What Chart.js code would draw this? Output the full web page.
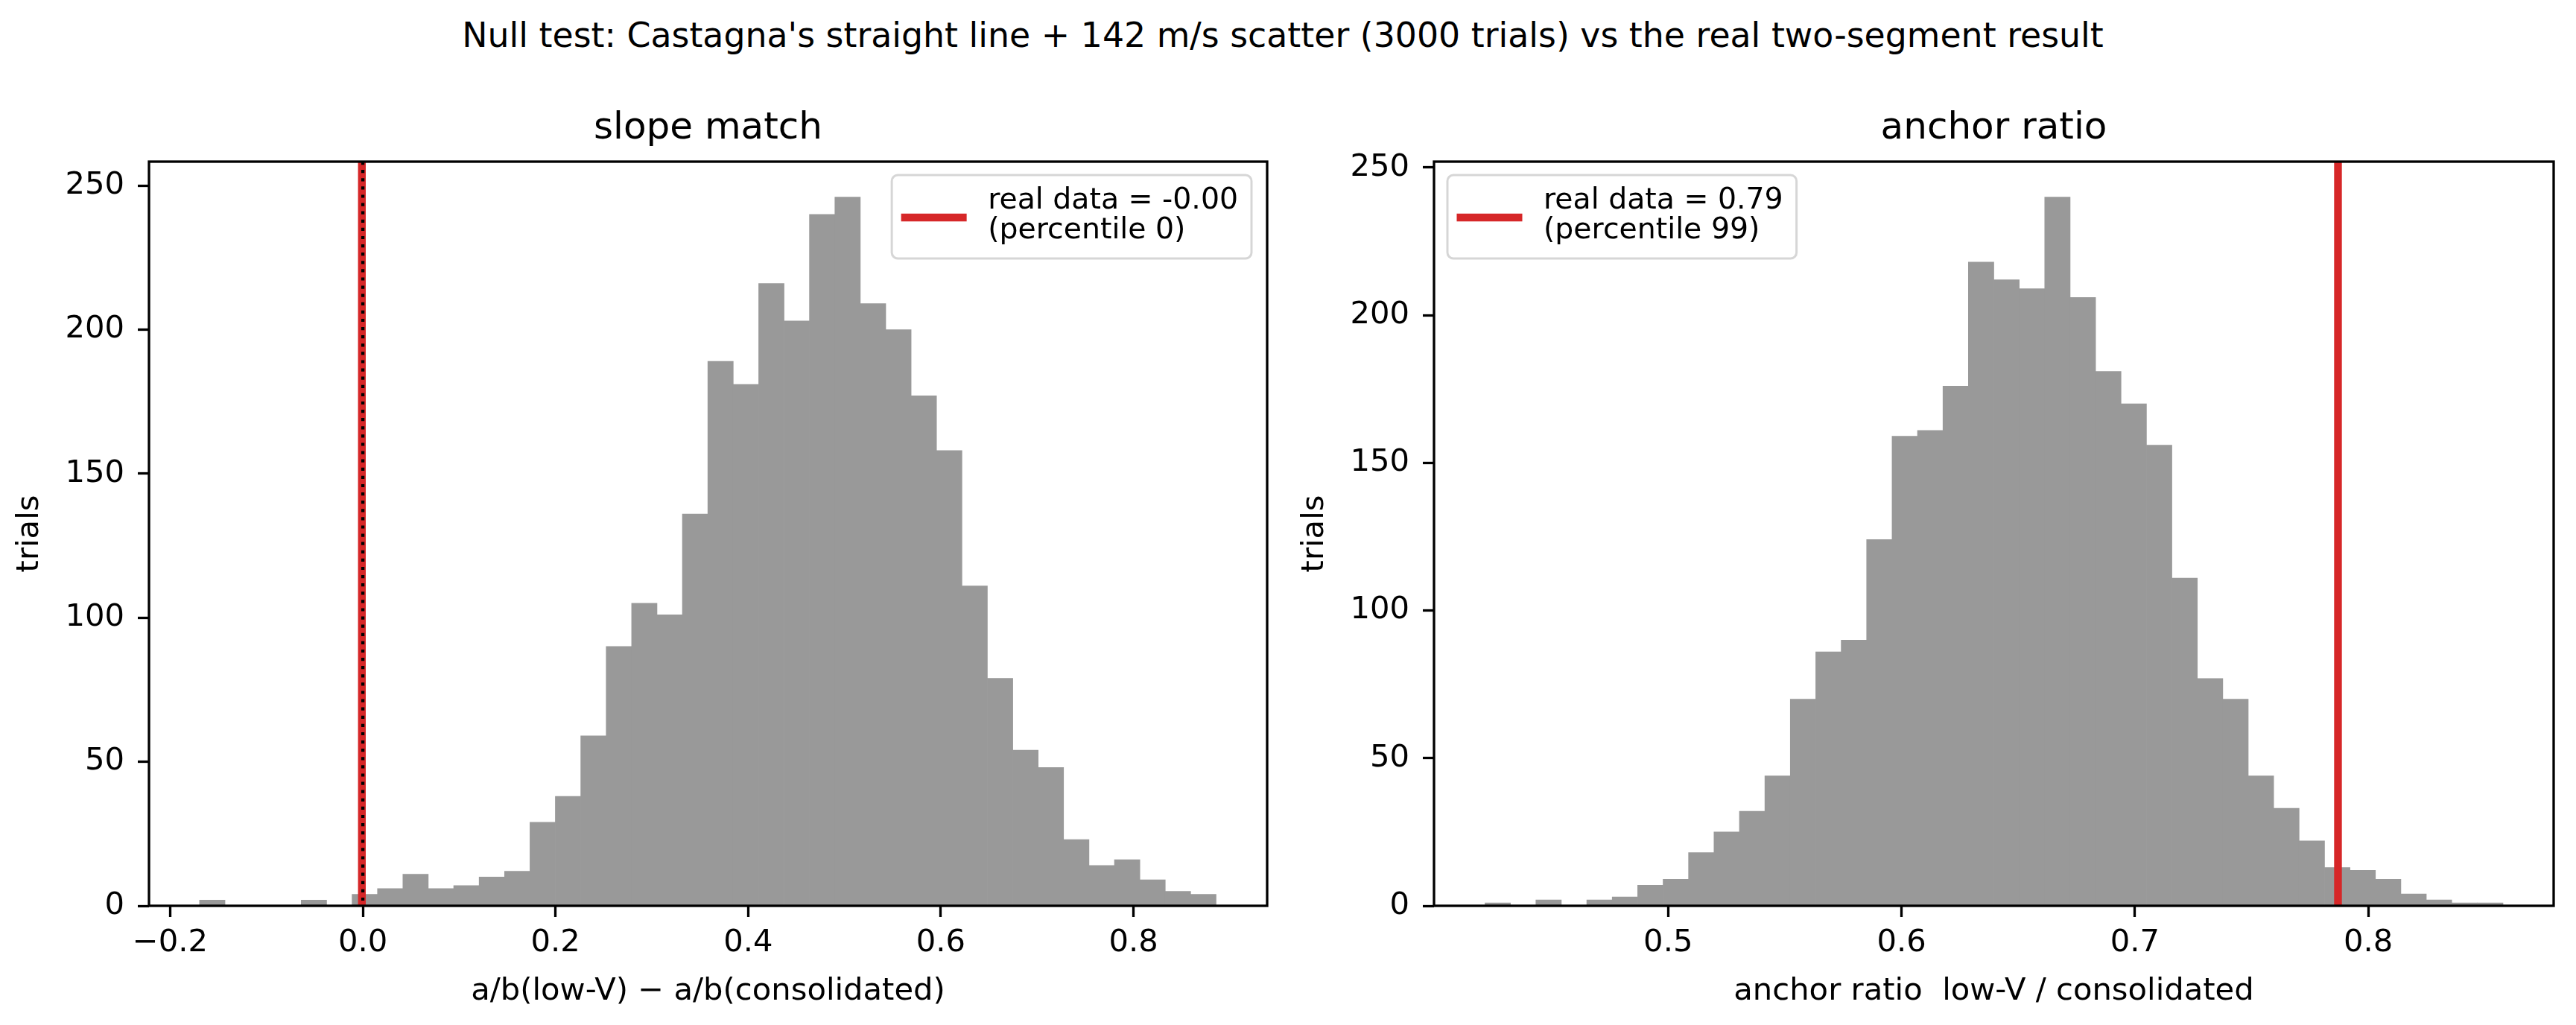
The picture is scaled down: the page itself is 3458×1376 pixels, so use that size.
<!DOCTYPE html>
<html>
<head>
<meta charset="utf-8">
<script src="https://cdn.jsdelivr.net/npm/chart.js@4.4.0/dist/chart.umd.min.js"></script>
<style>
    html, body { margin: 0; padding: 0; background: #fff; }
    #fig { position: relative; width: 3458px; height: 1376px; font-family: "DejaVu Sans", sans-serif; }
    #suptitle { position: absolute; left: 0; top: 20px; width: 3444px; text-align: center;
                font-size: 45.8px; line-height: 55px; color: #000; white-space: nowrap; }
    canvas { position: absolute; top: 0; }
</style>
</head>
<body>
<div id="fig">
    <div id="suptitle">Null test: Castagna's straight line + 142 m/s scatter (3000 trials) vs the real two-segment result</div>
    <canvas id="slopechart" width="1725" height="1376" style="left:0px"></canvas>
    <canvas id="anchorchart" width="1733" height="1376" style="left:1725px"></canvas>
</div>
<script>
// Data block
// slope match: bin centres and trial counts
const slopeBins = [-0.1563, -0.1299, -0.1036, -0.0772, -0.0508, -0.0244, 0.0020, 0.0284, 0.0547, 0.0811,
                   0.1075, 0.1339, 0.1603, 0.1866, 0.2130, 0.2394, 0.2658, 0.2922, 0.3185, 0.3449,
                   0.3713, 0.3977, 0.4241, 0.4504, 0.4768, 0.5032, 0.5296, 0.5560, 0.5823, 0.6087,
                   0.6351, 0.6615, 0.6879, 0.7142, 0.7406, 0.7670, 0.7934, 0.8198, 0.8461, 0.8725];
const slopeCounts = [2, 0, 0, 0, 2, 0, 4, 6, 11, 6,
                     7, 10, 12, 29, 38, 59, 90, 105, 101, 136,
                     189, 181, 216, 203, 240, 246, 209, 200, 177, 158,
                     111, 79, 54, 48, 23, 14, 16, 9, 5, 4];
const slopeReal = -0.001;
const slopePercentile = 0;
const slopeNull = 0;
const slopeTicks = [-0.2, 0.0, 0.2, 0.4, 0.6, 0.8];

// anchor ratio: bin centres and trial counts
const anchorBins = [0.4270, 0.4379, 0.4488, 0.4597, 0.4706, 0.4815, 0.4924, 0.5033, 0.5142, 0.5251,
                    0.5360, 0.5469, 0.5578, 0.5687, 0.5796, 0.5905, 0.6014, 0.6123, 0.6232, 0.6341,
                    0.6450, 0.6559, 0.6668, 0.6777, 0.6886, 0.6995, 0.7104, 0.7213, 0.7322, 0.7431,
                    0.7540, 0.7649, 0.7758, 0.7867, 0.7976, 0.8085, 0.8194, 0.8303, 0.8412, 0.8522];
const anchorCounts = [1, 0, 2, 0, 2, 3, 7, 9, 18, 25,
                      32, 44, 70, 86, 90, 124, 159, 161, 176, 218,
                      212, 209, 240, 206, 181, 170, 156, 111, 77, 70,
                      44, 33, 22, 13, 12, 9, 4, 2, 1, 1];
const anchorReal = 0.787;
const anchorPercentile = 99;
const anchorTicks = [0.5, 0.6, 0.7, 0.8];

const countTicks = [0, 50, 100, 150, 200, 250];

Chart.defaults.font.family = '"DejaVu Sans", sans-serif';
Chart.defaults.color = '#000';

const RED = '#d62728';
const TICK_FONT = {size: 41.7, lineHeight: 1.2};

// Plugin block: vertical reference lines (axvline)
const markerLines = {
    id: 'markerLines',
    afterDatasetsDraw(chart, args, opts) {
        const {ctx, chartArea: a, scales: {x}} = chart;
        ctx.save();
        ctx.beginPath();
        ctx.rect(a.left, a.top, a.right - a.left, a.bottom - a.top);
        ctx.clip();
        const px = x.getPixelForValue(opts.real);
        ctx.strokeStyle = RED;
        ctx.lineWidth = 10.4;
        ctx.beginPath();
        ctx.moveTo(px, a.top);
        ctx.lineTo(px, a.bottom);
        ctx.stroke();
        if (opts.nullRef !== undefined) {
            const nx = x.getPixelForValue(opts.nullRef);
            ctx.strokeStyle = '#000';
            ctx.lineWidth = 4.2;
            ctx.setLineDash([4.2, 6.9]);
            ctx.beginPath();
            ctx.moveTo(nx, a.top);
            ctx.lineTo(nx, a.bottom);
            ctx.stroke();
        }
        ctx.restore();
    }
};

// Plugin block: all four spines
const axesFrame = {
    id: 'axesFrame',
    afterDatasetsDraw(chart) {
        const {ctx, chartArea: a} = chart;
        ctx.save();
        ctx.strokeStyle = '#000';
        ctx.lineWidth = 3.3;
        ctx.strokeRect(a.left, a.top, a.right - a.left, a.bottom - a.top);
        ctx.restore();
    }
};

// Plugin block: matplotlib style legend inside the axes
const boxLegend = {
    id: 'boxLegend',
    afterDatasetsDraw(chart, args, opts) {
        const {ctx, chartArea: a} = chart;
        ctx.save();
        ctx.font = '39.4px "DejaVu Sans"';
        const tw = Math.max(...opts.lines.map(t => ctx.measureText(t).width));
        const bw = 129 + tw + 18, bh = 112;
        const bx = opts.align === 'right' ? a.right - 21 - bw : a.left + 18;
        const by = a.top + 18;
        ctx.beginPath();
        ctx.roundRect(bx, by, bw, bh, 8);
        ctx.fillStyle = 'rgba(255,255,255,0.8)';
        ctx.fill();
        ctx.strokeStyle = 'rgba(204,204,204,0.8)';
        ctx.lineWidth = 3;
        ctx.stroke();
        // legend handle
        ctx.beginPath();
        ctx.moveTo(bx + 12.5, by + 57);
        ctx.lineTo(bx + 100.5, by + 57);
        ctx.strokeStyle = RED;
        ctx.lineWidth = 10.4;
        ctx.stroke();
        ctx.fillStyle = '#000';
        ctx.textBaseline = 'alphabetic';
        opts.lines.forEach((t, i) => ctx.fillText(t, bx + 129, by + 45 + 40 * i));
        ctx.restore();
    }
};

// Config block
function histConfig(p) {
    return {
        type: 'bar',
        data: {
            datasets: [{
                label: 'trials',
                data: p.bins.map((b, i) => ({x: b, y: p.counts[i]})),
                backgroundColor: '#999999',
                borderWidth: 0,
                barThickness: 'flex',
                categoryPercentage: 1,
                barPercentage: 1
            }]
        },
        options: {
            responsive: false,
            animation: false,
            layout: {padding: {left: 0, right: p.padRight, top: 0, bottom: 0}},
            scales: {
                x: {
                    type: 'linear',
                    min: p.xMin,
                    max: p.xMax,
                    offset: false,
                    afterBuildTicks: s => { s.ticks = p.xTicks.map(v => ({value: v})); },
                    afterFit: s => { s.height = 160; },
                    ticks: {
                        font: TICK_FONT,
                        padding: 10,
                        maxRotation: 0,
                        autoSkip: false,
                        callback: v => v.toFixed(1).replace('-', '\u2212')
                    },
                    grid: {offset: false, drawOnChartArea: false, drawTicks: true, tickLength: 15,
                           tickWidth: 3.3, tickColor: '#000'},
                    border: {display: false},
                    title: {display: true, text: p.xLabel, font: TICK_FONT,
                            padding: {top: 0, bottom: 20}}
                },
                y: {
                    min: 0,
                    max: p.yMax,
                    afterBuildTicks: s => { s.ticks = countTicks.map(v => ({value: v})); },
                    afterFit: s => { s.width = 200; },
                    ticks: {font: TICK_FONT, padding: 18},
                    grid: {drawOnChartArea: false, drawTicks: true, tickLength: 15,
                           tickWidth: 3.3, tickColor: '#000'},
                    border: {display: false},
                    title: {display: true, text: 'trials', font: TICK_FONT,
                            padding: {top: 15, bottom: 0}}
                }
            },
            plugins: {
                legend: {display: false},
                tooltip: {enabled: false},
                title: {
                    display: true,
                    text: p.title,
                    fullSize: false,
                    font: {size: 50, weight: 'normal', lineHeight: 1.2},
                    padding: {top: 143, bottom: 14}
                },
                markerLines: {real: p.real, nullRef: p.nullRef},
                boxLegend: {align: p.legendAlign, lines: p.legendLines}
            }
        },
        plugins: [markerLines, axesFrame, boxLegend]
    };
}

// render / init block
const slopeChart = new Chart(document.getElementById('slopechart'), histConfig({
    bins: slopeBins,
    counts: slopeCounts,
    xMin: -0.222,
    xMax: 0.9387,
    yMax: 258.3,
    xTicks: slopeTicks,
    padRight: 24,
    title: 'slope match',
    xLabel: 'a/b(low-V) \u2212 a/b(consolidated)',
    real: slopeReal,
    nullRef: slopeNull,
    legendAlign: 'right',
    legendLines: ['real data = ' + slopeReal.toFixed(2), '(percentile ' + slopePercentile + ')']
}));

const anchorChart = new Chart(document.getElementById('anchorchart'), histConfig({
    bins: anchorBins,
    counts: anchorCounts,
    xMin: 0.3997,
    xMax: 0.8794,
    yMax: 252,
    xTicks: anchorTicks,
    padRight: 30,
    title: 'anchor ratio',
    xLabel: 'anchor ratio  low-V / consolidated',
    real: anchorReal,
    legendAlign: 'left',
    legendLines: ['real data = ' + anchorReal.toFixed(2), '(percentile ' + anchorPercentile + ')']
}));
</script>
</body>
</html>
